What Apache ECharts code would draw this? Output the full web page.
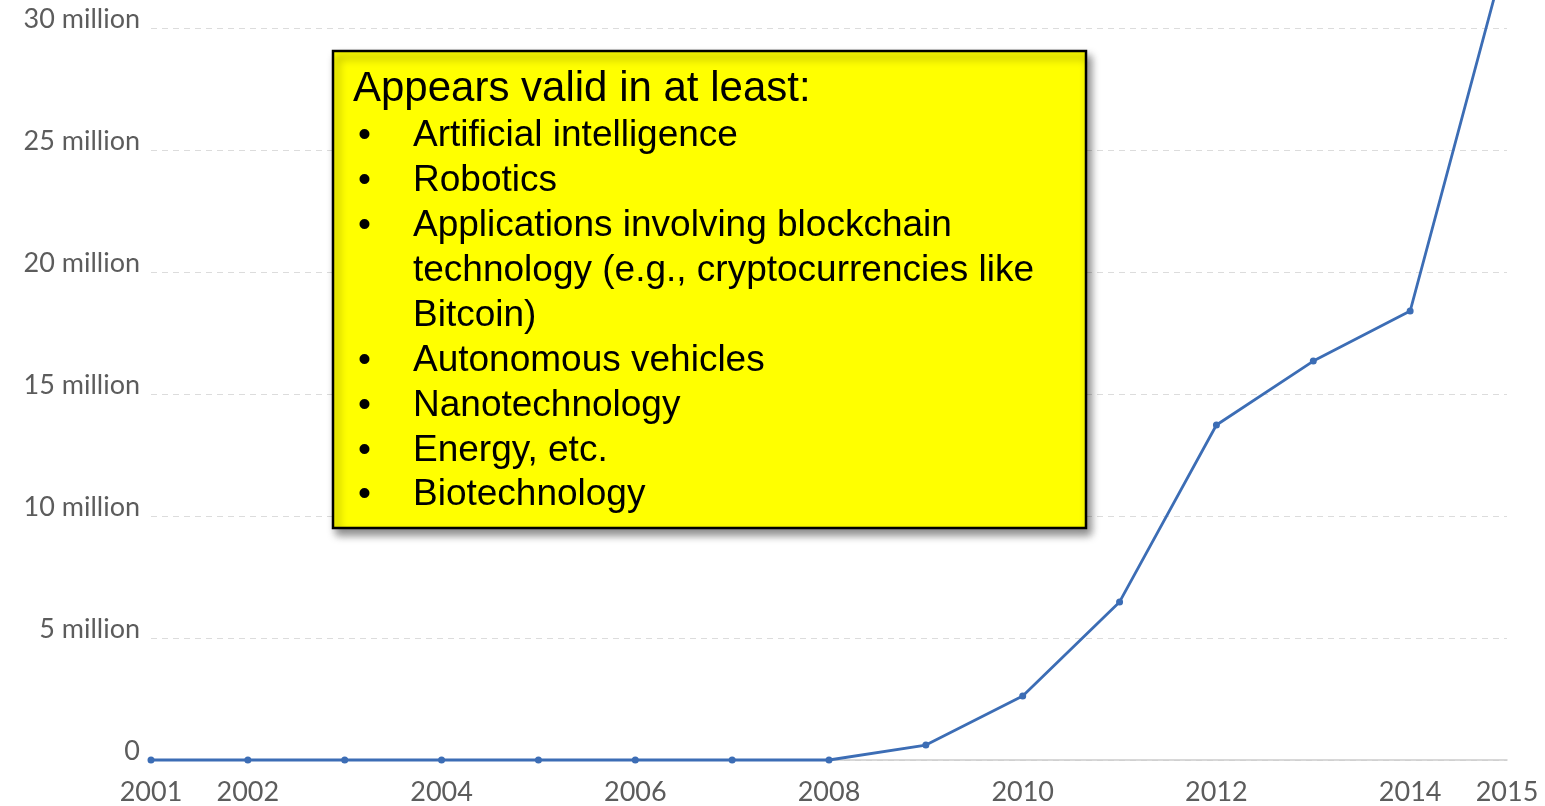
<!DOCTYPE html>
<html>
<head>
<meta charset="utf-8">
<script src="https://cdn.jsdelivr.net/npm/echarts@6/dist/echarts.min.js"></script>
<style>
html,body{margin:0;padding:0;background:#fff;}
#chart{width:1545px;height:806px;}
</style>
</head>
<body>
<div id="chart"></div>
<script>
// ---- data ----
const years = ['2001','2002','2003','2004','2005','2006','2007','2008','2009','2010','2011','2012','2013','2014','2015'];
const values = [0, 0, 0, 0, 0, 0, 0, 0, 610000, 2620000, 6480000, 13730000, 16350000, 18400000, 33200000];
const xTickLabels = ['2001','2002','2004','2006','2008','2010','2012','2014','2015'];
const yTickLabels = {0:'0', 5000000:'5 million', 10000000:'10 million', 15000000:'15 million', 20000000:'20 million', 25000000:'25 million', 30000000:'30 million'};
const boxTitle = 'Appears valid in at least:';
const boxLines = [
  {text: 'Artificial intelligence', bullet: true},
  {text: 'Robotics', bullet: true},
  {text: 'Applications involving blockchain', bullet: true},
  {text: 'technology (e.g., cryptocurrencies like', bullet: false},
  {text: 'Bitcoin)', bullet: false},
  {text: 'Autonomous vehicles', bullet: true},
  {text: 'Nanotechnology', bullet: true},
  {text: 'Energy, etc.', bullet: true},
  {text: 'Biotechnology', bullet: true}
];

const chart = echarts.init(document.getElementById('chart'));

const boxFont = '37px "Liberation Sans", Arial, sans-serif';
const textEls = [{
  type: 'text', x: 353, y: 89,
  style: {text: boxTitle, font: '42px "Liberation Sans", Arial, sans-serif', fill: '#000', verticalAlign: 'middle'}
}];
boxLines.forEach((l, i) => {
  const cy = 136 + i * 44.9;
  if (l.bullet) {
    textEls.push({type: 'text', x: 358, y: cy, style: {text: '•', font: boxFont, fill: '#000', verticalAlign: 'middle'}});
  }
  textEls.push({type: 'text', x: 413, y: cy, style: {text: l.text, font: boxFont, fill: '#000', verticalAlign: 'middle'}});
});

chart.setOption({
  animation: false,
  grid: {left: 151, right: 38, top: 28, bottom: 45},
  xAxis: {
    type: 'category',
    data: years,
    boundaryGap: false,
    axisLine: {lineStyle: {color: '#cccccc', width: 1.5}},
    axisTick: {show: false},
    axisLabel: {
      interval: (idx, val) => xTickLabels.includes(val),
      color: '#5c5c5c',
      fontFamily: 'Lato, sans-serif',
      fontSize: 27,
      margin: 19
    },
    splitLine: {show: false}
  },
  yAxis: {
    type: 'value',
    min: 0, max: 30000000, interval: 5000000,
    axisLine: {show: false},
    axisTick: {show: false},
    axisLabel: {
      formatter: v => yTickLabels[v] !== undefined ? yTickLabels[v] : '',
      color: '#5c5c5c',
      fontFamily: 'Lato, sans-serif',
      fontSize: 27,
      lineHeight: 27,
      margin: 11,
      verticalAlign: 'bottom',
      padding: [0,0,-5,0]
    },
    splitLine: {lineStyle: {color: '#dcdcdc', type: [6, 5], width: 1.2}}
  },
  series: [{
    type: 'line',
    data: values,
    clip: false,
    symbol: 'circle',
    symbolSize: 7,
    lineStyle: {color: '#3c6db5', width: 2.8},
    itemStyle: {color: '#3c6db5'}
  }],
  graphic: [{
    type: 'rect',
    shape: {x: 333, y: 51, width: 753, height: 477},
    style: {fill: '#ffff00', stroke: '#000', lineWidth: 2.5, shadowBlur: 8, shadowOffsetX: 4, shadowOffsetY: 6, shadowColor: 'rgba(0,0,0,0.45)'},
    z: 100
  }].concat(textEls.map(e => Object.assign(e, {z: 101})))
});
</script>
</body>
</html>
